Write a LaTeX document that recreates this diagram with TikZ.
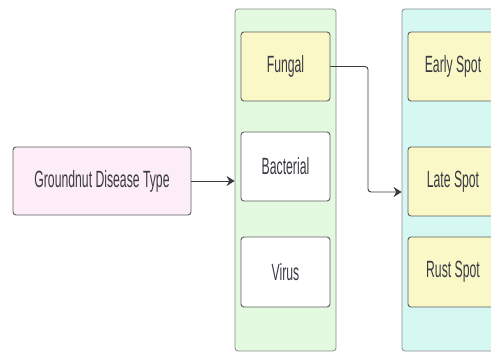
\documentclass[tikz,border=0pt]{standalone}
\usepackage{fontspec}
\setmainfont{Liberation Sans}[FakeStretch=0.52]
\usetikzlibrary{arrows.meta}
\definecolor{rootfill}{HTML}{FDEDF8}
\definecolor{typefill}{HTML}{E3F9E0}
\definecolor{spotfill}{HTML}{D6F8F2}
\definecolor{leaffill}{HTML}{FBF8C8}
\definecolor{edgegray}{HTML}{8C8C8C}
\definecolor{boxgray}{HTML}{5E5E5E}
\definecolor{inkgray}{HTML}{3A3A42}
\tikzset{>={Stealth[length=8pt,width=10pt]},every node/.style={font=\fontsize{23.5}{25}\selectfont,text=inkgray},
  box/.style={draw=boxgray,line width=.9pt,rounded corners=3pt,minimum width=89pt,minimum height=69pt,inner sep=0pt},
  lane/.style={draw=edgegray,line width=.8pt,rounded corners=3pt,minimum width=101pt,minimum height=342pt,inner sep=0pt},
  flow/.style={->,line width=.9pt,draw=inkgray}}

\begin{document}
\begin{tikzpicture}[x=1pt,y=-1pt]
\useasboundingbox (0,0) rectangle (491,352);
\clip (0,0) rectangle (491,352);
% lanes
\node[lane,fill=typefill] (types) at (285.5,180) {};
\node[lane,fill=spotfill,minimum width=118pt] (spots) at (461,180) {};
% boxes
\node[box,fill=rootfill,minimum width=178pt,minimum height=68pt] (root) at (102,181) {Groundnut Disease Type};
\node[box,fill=leaffill] (fungal) at (285.5,66.5) {Fungal};
\node[box,fill=white] (bacterial) at (285.5,166.5) {Bacterial};
\node[box,fill=white,minimum height=70pt] (virus) at (285.5,272) {Virus};
\node[box,fill=leaffill,minimum width=90pt] (early) at (453,66.5) {Early Spot};
\node[box,fill=leaffill,minimum width=90pt] (late) at (453,181.5) {Late Spot};
\node[box,fill=leaffill,minimum width=90pt,minimum height=70pt] (rust) at (453,272) {Rust Spot};
% connectors
\draw[flow] (root.east) -- (types.west |- root.east);
\coordinate (bend) at (368,192);
\draw[flow,rounded corners=3pt] (fungal.east) -| (bend) -- (spots.west |- bend);
\end{tikzpicture}
\end{document}
